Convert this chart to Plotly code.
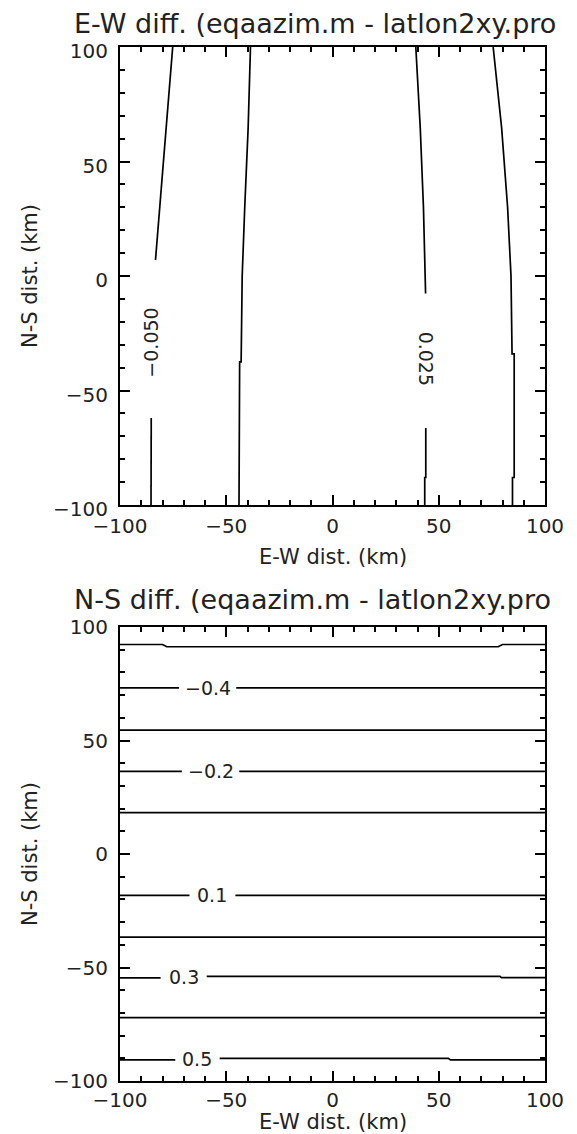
import plotly.graph_objects as go

# ---------------- data ----------------
AXIS_RANGE = [-100, 100]
TICK_VALS = [-100, -50, 0, 50, 100]

# Top panel: E-W difference contours (x positions of each level vs N-S distance)
ew_levels = ["-0.050", "-0.025", "0.025", "0.050"]
ew_c1_y = [100, 80, 60, 40, 20, 7, None, -62, -80, -100]
ew_c1_x = [-75.2, -77.0, -78.7, -80.5, -82.3, -83.3, None, -85.3, -85.4, -85.4]
ew_c2_y = [100, 64.6, 30, 0, -37.5, -37.5, -100]
ew_c2_x = [-38.6, -39.7, -41.3, -42.5, -43.0, -43.7, -44.0]
ew_c3_y = [100, 64.6, 30, -7.6, None, -66.4, -88, -88, -100]
ew_c3_x = [39.2, 41.3, 42.8, 43.8, None, 43.9, 43.9, 43.4, 43.4]
ew_c4_y = [100, 64.6, 30, 0, -34, -34, -88, -88, -100]
ew_c4_x = [75.6, 79.6, 82.4, 84.0, 84.5, 85.5, 85.5, 84.7, 84.7]
ew_lines_x = [ew_c1_x, ew_c2_x, ew_c3_x, ew_c4_x]
ew_lines_y = [ew_c1_y, ew_c2_y, ew_c3_y, ew_c4_y]
ew_label_text = ["\u22120.050", "0.025"]
ew_label_x = [-85.3, 43.9]
ew_label_y = [-29, -36]
ew_label_angle = [-90, 90]

# Bottom panel: N-S difference contours (y positions of each level vs E-W distance)
ns_levels = [-0.5, -0.4, -0.3, -0.2, -0.1, 0.1, 0.2, 0.3, 0.4, 0.5]
ns_m05_x = [-100, -80, -78, 78, 80, 100]
ns_m05_y = [92.3, 92.3, 91.3, 91.3, 92.3, 92.3]
ns_m04_x = [-100, -72.2, None, -45.3, 100]
ns_m04_y = [73.2, 73.2, None, 73.2, 73.2]
ns_m03_x = [-100, 100]
ns_m03_y = [54.6, 54.6]
ns_m02_x = [-100, -70.9, None, -43.9, 100]
ns_m02_y = [36.4, 36.4, None, 36.4, 36.4]
ns_m01_x = [-100, 100]
ns_m01_y = [18.2, 18.2]
ns_p01_x = [-100, -67.3, None, -45.7, 100]
ns_p01_y = [-18.2, -18.2, None, -18.2, -18.2]
ns_p02_x = [-100, 100]
ns_p02_y = [-36.6, -36.6]
ns_p03_x = [-100, -80.9, None, -59.2, 78.8, 79.5, 100]
ns_p03_y = [-54.6, -54.6, None, -53.9, -53.9, -54.5, -54.5]
ns_p04_x = [-100, 100]
ns_p04_y = [-72.1, -72.1]
ns_p05_x = [-100, -74.0, None, -53.1, 54.5, 55.5, 100]
ns_p05_y = [-90.7, -90.7, None, -90.0, -90.0, -90.7, -90.7]
ns_lines_x = [ns_m05_x, ns_m04_x, ns_m03_x, ns_m02_x, ns_m01_x,
              ns_p01_x, ns_p02_x, ns_p03_x, ns_p04_x, ns_p05_x]
ns_lines_y = [ns_m05_y, ns_m04_y, ns_m03_y, ns_m02_y, ns_m01_y,
              ns_p01_y, ns_p02_y, ns_p03_y, ns_p04_y, ns_p05_y]
ns_label_text = ["\u22120.4", "\u22120.2", "0.1", "0.3", "0.5"]
ns_label_x = [-58.8, -57.4, -56.5, -70.0, -63.6]
ns_label_y = [73.2, 36.4, -18.2, -54.4, -90.3]

TITLE_TOP = "E-W diff. (eqaazim.m - latlon2xy.pro"
TITLE_BOT = "N-S diff. (eqaazim.m - latlon2xy.pro"
XLABEL = "E-W dist. (km)"
YLABEL = "N-S dist. (km)"

# ---------------- figure ----------------
W, H = 577, 1134
FONT = "DejaVu Sans, Liberation Sans, sans-serif"
TXT = "#222222"

fig = go.Figure()
for xs, ys in zip(ew_lines_x, ew_lines_y):
    fig.add_trace(go.Scatter(x=xs, y=ys, mode="lines", xaxis="x", yaxis="y",
                             line=dict(color="black", width=1.7),
                             connectgaps=False, showlegend=False, hoverinfo="skip"))
for xs, ys in zip(ns_lines_x, ns_lines_y):
    fig.add_trace(go.Scatter(x=xs, y=ys, mode="lines", xaxis="x2", yaxis="y2",
                             line=dict(color="black", width=1.7),
                             connectgaps=False, showlegend=False, hoverinfo="skip"))

x_dom = [112 / W, 537 / W]
top_dom = [1 - 497 / H, 1 - 39 / H]
bot_dom = [1 - 1073 / H, 1 - 619 / H]


def ax(domain, anchor, standoff, shift=0):
    return dict(domain=domain, anchor=anchor, range=AXIS_RANGE, tickvals=TICK_VALS,
                automargin=False,
                ticks="inside", ticklen=10, tickwidth=1.5, tickcolor="black",
                showline=True, linecolor="black", linewidth=2, mirror="ticks",
                showgrid=False, zeroline=False,
                minor=dict(dtick=10, ticks="inside", ticklen=5, tickwidth=1.5,
                           tickcolor="black", showgrid=False),
                tickfont=dict(family=FONT, size=20, color=TXT),
                ticklabelstandoff=standoff, ticklabelshift=shift)


fig.update_layout(
    width=W, height=H, margin=dict(l=0, r=0, t=0, b=0, autoexpand=False),
    paper_bgcolor="white", plot_bgcolor="white",
    xaxis=ax(x_dom, "y", 2), yaxis=ax(top_dom, "x", 6, 4),
    xaxis2=ax(x_dom, "y2", 0), yaxis2=ax(bot_dom, "x2", 6, 0),
)

ann = []
tfont = dict(family=FONT, size=27, color=TXT)
lfont = dict(family=FONT, size=21, color=TXT)
cfont = dict(family=FONT, size=19, color=TXT)
ann.append(dict(text=TITLE_TOP, xref="paper", yref="paper", x=64 / W, y=1 - 15 / H,
                xanchor="left", yanchor="middle", showarrow=False, font=tfont))
ann.append(dict(text=TITLE_BOT, xref="paper", yref="paper", x=64 / W, y=1 - 591 / H,
                xanchor="left", yanchor="middle", showarrow=False, font=tfont))
ann.append(dict(text=XLABEL, xref="paper", yref="paper", x=324.5 / W, y=1 - 549 / H,
                xanchor="center", yanchor="middle", showarrow=False, font=lfont))
ann.append(dict(text=XLABEL, xref="paper", yref="paper", x=324.5 / W, y=1 - 1114 / H,
                xanchor="center", yanchor="middle", showarrow=False, font=lfont))
ann.append(dict(text=YLABEL, xref="paper", yref="paper", x=22 / W, y=1 - 268 / H,
                xanchor="center", yanchor="middle", textangle=-90, showarrow=False, font=lfont))
ann.append(dict(text=YLABEL, xref="paper", yref="paper", x=22 / W, y=1 - 846 / H,
                xanchor="center", yanchor="middle", textangle=-90, showarrow=False, font=lfont))
for t, x, y, a in zip(ew_label_text, ew_label_x, ew_label_y, ew_label_angle):
    ann.append(dict(text=t, xref="x", yref="y", x=x, y=y, textangle=a,
                    xanchor="center", yanchor="middle", showarrow=False, font=cfont))
for t, x, y in zip(ns_label_text, ns_label_x, ns_label_y):
    ann.append(dict(text=t, xref="x2", yref="y2", x=x, y=y,
                    xanchor="center", yanchor="middle", showarrow=False, font=cfont))
fig.update_layout(annotations=ann)

fig.write_html("out.html")
